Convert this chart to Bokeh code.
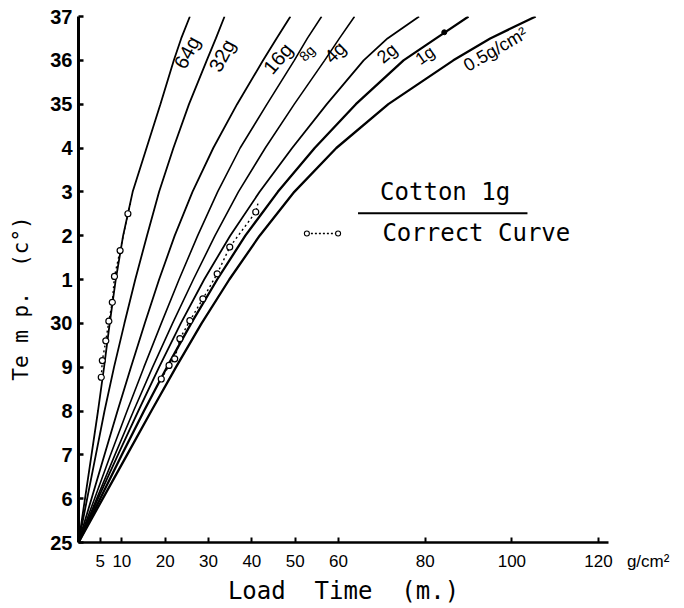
import math
from bokeh.plotting import figure
from bokeh.models import FixedTicker, Range1d, ColumnDataSource
from bokeh.core.properties import value
from bokeh.embed import file_html
from bokeh.resources import INLINE

# ---- data: temperature (deg C) reached vs load time (min), one curve per load ----
temps = [25, 26, 27, 28, 29, 30, 31, 32, 33, 34, 35, 36, 36.5, 37]
x64 = [0, 1.5, 3.0, 4.5, 5.9, 7.2, 8.6, 10.3, 12.5, 15.7, 18.9, 22.0, 23.7, 25.7]
x32 = [0, 2.0, 4.0, 6.0, 8.2, 10.6, 13.1, 15.8, 18.6, 21.9, 25.5, 29.6, 31.7, 33.7]
x16 = [0, 3.0, 6.0, 9.0, 12.1, 15.3, 18.6, 22.2, 26.3, 31.1, 36.6, 42.6, 45.7, 48.9]
x8 = [0, 3.7, 7.4, 11.2, 15.1, 19.1, 23.2, 27.5, 32.1, 37.3, 43.5, 49.8, 52.8, 56.1]
x4 = [0, 4.2, 8.4, 12.7, 17.1, 21.7, 26.5, 31.5, 36.9, 43.1, 49.8, 56.8, 60.2, 63.7]
x2 = [0, 4.5, 9.1, 13.8, 18.6, 23.6, 29.0, 35.0, 41.8, 49.3, 57.3, 65.8, 71.3, 78.6]
x1 = [0, 5.0, 10.0, 15.1, 20.4, 26.0, 32.0, 38.5, 46.0, 54.5, 64.0, 75.0, 82.5, 90.0]
x05 = [0, 5.6, 11.2, 16.8, 22.5, 28.4, 34.8, 41.8, 49.8, 59.5, 71.5, 86.5, 95.0, 105.5]

curve_names = ["64g", "32g", "16g", "8g", "4g", "2g", "1g", "0.5g/cm\u00b2"]

# "correct curves" (dotted, open circles)
ca_t = [28.77, 29.15, 29.6, 30.05, 30.48, 31.07, 31.66, 32.5, 32.73]
ca_x = [5.25, 5.5, 6.3, 7.0, 7.8, 8.3, 9.6, 11.4, 12.0]
cb_t = [28.73, 29.04, 29.19, 29.65, 30.06, 30.56, 31.13, 31.74, 32.54, 32.73]
cb_x = [19.1, 20.9, 22.2, 23.4, 25.7, 28.7, 32.0, 34.9, 40.9, 41.4]

x_ticks = [5, 10, 20, 30, 40, 50, 60, 80, 100, 120]
x_tick_labels = ["5", "10", "20", "30", "40", "50", "60", "80", "100",
                 "\u00a0" * 12 + "120" + "\u00a0" * 3 + "g/cm\u00b2"]
y_ticks = [25, 26, 27, 28, 29, 30, 31, 32, 33, 34, 35, 36, 37]
y_tick_labels = ["25", "6", "7", "8", "9", "30", "1", "2", "3", "4", "35", "36", "37"]

FONT = "Liberation Sans"
HAND = "DejaVu Sans Mono"

p = figure(width=684, height=608, x_range=Range1d(0, 122.3), y_range=Range1d(25, 37),
           output_backend="svg", toolbar_location=None,
           min_border_left=78, min_border_right=76, min_border_top=16, min_border_bottom=66)
p.xgrid.visible = False
p.ygrid.visible = False
p.outline_line_color = None
p.background_fill_color = "white"
p.border_fill_color = "white"

curves = [x64, x32, x16, x8, x4, x2, x1, x05]
widths = [1.8, 1.8, 1.8, 1.6, 1.6, 1.8, 2.3, 2.3]
for xs, w in zip(curves, widths):
    p.line(xs, temps, line_color="black", line_width=w)

for xs, ts in [(ca_x, ca_t), (cb_x, cb_t)]:
    p.line(xs, ts, line_color="black", line_width=1.4, line_dash="2 3")
    p.scatter(xs[:-1], ts[:-1], size=6, marker="circle", fill_color="white",
              line_color="black", line_width=1.2)

# filled dot on the 1g curve
p.scatter([84.4], [36.64], size=5, marker="circle", fill_color="black", line_color="black")

# curve labels
lab_x = [25.0, 33.1, 46.0, 52.7, 59.2, 71.2, 80.0, 96.2]
lab_y = [36.18, 36.11, 36.04, 36.16, 36.18, 36.16, 36.11, 36.25]
lab_ang = [62, 62, 50, 45, 45, 40, 35, 30]
lab_size = ["20px", "20px", "20px", "14px", "19px", "18px", "17px", "18px"]
src = ColumnDataSource(dict(x=lab_x, y=lab_y, text=curve_names,
                            angle=[math.radians(a) for a in lab_ang], size=lab_size))
p.text(x="x", y="y", text="text", angle="angle", source=src, text_font=value(FONT),
       text_font_size="size", text_align="center", text_baseline="middle", text_color="black")

# legend block
p.text(x=[84.6], y=[32.99], text=["Cotton 1g"], text_font=value(HAND), text_font_size="24px",
       text_align="center", text_baseline="middle", text_color="black")
p.line([64.5, 103.6], [32.51, 32.51], line_color="black", line_width=2)
p.text(x=[91.8], y=[32.07], text=["Correct Curve"], text_font=value(HAND), text_font_size="24px",
       text_align="center", text_baseline="middle", text_color="black")
p.line([52.7, 59.9], [32.05, 32.05], line_color="black", line_width=1.3, line_dash="2 2")
p.scatter([52.7, 59.9], [32.05, 32.05], size=5, marker="circle", fill_color="white",
          line_color="black", line_width=1.1)

# axes
p.xaxis.ticker = FixedTicker(ticks=x_ticks)
p.yaxis.ticker = FixedTicker(ticks=y_ticks)
p.xaxis.major_label_overrides = {t: l for t, l in zip(x_ticks, x_tick_labels)}
p.yaxis.major_label_overrides = {t: l for t, l in zip(y_ticks, y_tick_labels)}
for ax in (p.xaxis, p.yaxis):
    ax.axis_line_color = "black"
    ax.major_tick_line_color = "black"
    ax.major_tick_in = 5
    ax.major_tick_out = 0
    ax.minor_tick_line_color = None
    ax.major_label_text_font = FONT
    ax.major_label_text_color = "black"
    ax.axis_label_text_font = HAND
    ax.axis_label_text_font_style = "normal"
    ax.axis_label_text_color = "black"
p.yaxis.axis_line_width = 3
p.yaxis.major_tick_line_width = 2.5
p.xaxis.axis_line_width = 2.5
p.xaxis.major_tick_line_width = 2
p.yaxis.major_label_text_font_size = "20px"
p.yaxis.major_label_text_font_style = "bold"
p.yaxis.major_label_standoff = 6
p.xaxis.major_label_text_font_size = "17px"
p.xaxis.major_label_standoff = 9
p.xaxis.axis_label = "Load\u00a0 Time\u00a0 (m.)"
p.xaxis.axis_label_text_font_size = "24px"
p.xaxis.axis_label_standoff = 3
p.yaxis.axis_label = "Te m p.\u00a0 (c\u00b0)" + "\u00a0" * 3
p.yaxis.axis_label_text_font_size = "21px"
p.yaxis.axis_label_standoff = 14

open("out.html", "w").write(file_html(p, INLINE))
